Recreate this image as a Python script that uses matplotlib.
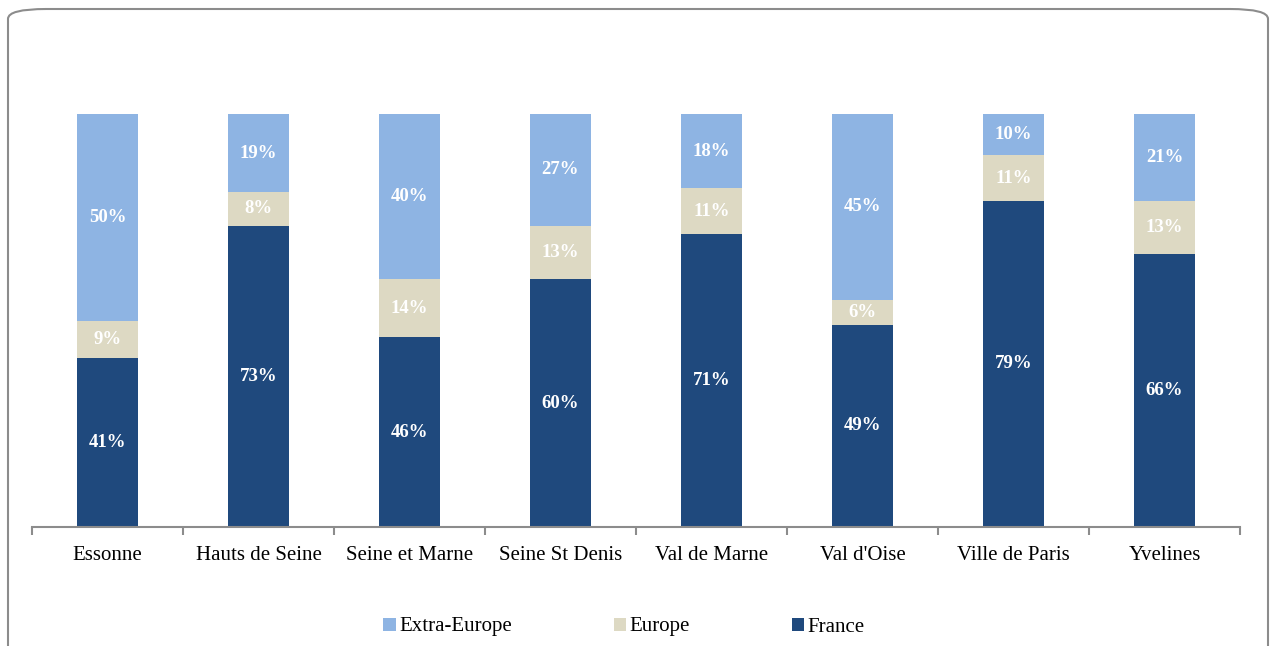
import numpy as np
import matplotlib
matplotlib.use("Agg")
import matplotlib.pyplot as plt
from matplotlib.patches import FancyBboxPatch

# ─────────────────────────────────────────────
# DATA
# ─────────────────────────────────────────────
departements = ["Essonne", "Hauts de Seine", "Seine et Marne", "Seine St Denis",
                "Val de Marne", "Val d'Oise", "Ville de Paris", "Yvelines"]
france       = [41, 73, 46, 60, 71, 49, 79, 66]
europe       = [9, 8, 14, 13, 11, 6, 11, 13]
extra_europe = [50, 19, 40, 27, 18, 45, 10, 21]

C_FRANCE = "#1F497D"
C_EUROPE = "#DDD9C3"
C_EXTRA  = "#8EB4E3"

plt.rcParams["font.family"] = ["Liberation Serif", "DejaVu Serif"]

fig = plt.figure(figsize=(12.72, 6.46), dpi=100)

# rounded frame around the chart
frame = FancyBboxPatch((8 / 1272, -0.1), 1260 / 1272, (646 - 9) / 646 + 0.1,
                       boxstyle="round,pad=0,rounding_size=0.03",
                       transform=fig.transFigure, facecolor="white",
                       edgecolor="#8C8C8C", linewidth=1.5, zorder=-5,
                       mutation_aspect=646 / 1272)
fig.patches.append(frame)

ax = fig.add_axes([32 / 1272, 119 / 646, 1208 / 1272, 413 / 646])
ax.set_facecolor("none")

x = np.arange(len(departements))
w = 0.4
fr = np.array(france)
eu = np.array(europe)
ex = np.array(extra_europe)

b1 = ax.bar(x, fr, w, color=C_FRANCE, label="France")
b2 = ax.bar(x, eu, w, bottom=fr, color=C_EUROPE, label="Europe")
b3 = ax.bar(x, ex, w, bottom=fr + eu, color=C_EXTRA, label="Extra-Europe")

# value labels in the middle of each segment
for i in range(len(x)):
    ax.text(x[i], fr[i] / 2, f"{fr[i]}%", ha="center", va="center",
            color="white", fontsize=13.5, fontweight="bold")
    ax.text(x[i], fr[i] + eu[i] / 2, f"{eu[i]}%", ha="center", va="center",
            color="white", fontsize=13.5, fontweight="bold")
    ax.text(x[i], fr[i] + eu[i] + ex[i] / 2, f"{ex[i]}%", ha="center", va="center",
            color="white", fontsize=13.5, fontweight="bold")

ax.set_xlim(-0.5, len(x) - 0.5)
ax.set_ylim(0, 100)

for s in ["top", "right", "left"]:
    ax.spines[s].set_visible(False)
ax.spines["bottom"].set_color("#8C8C8C")
ax.spines["bottom"].set_linewidth(1.5)
ax.set_yticks([])

ax.set_xticks(x)
ax.set_xticklabels(departements, fontsize=15)
ax.tick_params(axis="x", which="major", length=0, pad=14)
ax.set_xticks(np.arange(-0.5, len(x)), minor=True)
ax.tick_params(axis="x", which="minor", length=6, width=1.5, color="#8C8C8C")

fig.legend([b3, b2, b1], ["Extra-Europe", "Europe", "France"], ncol=3,
           loc="center", bbox_to_anchor=(624 / 1272, 1 - 627 / 646),
           frameon=False, fontsize=15, handlelength=0.6, handleheight=0.6,
           handletextpad=0.15, columnspacing=4.9, borderpad=0, borderaxespad=0)

plt.savefig("out.png", dpi=100)
